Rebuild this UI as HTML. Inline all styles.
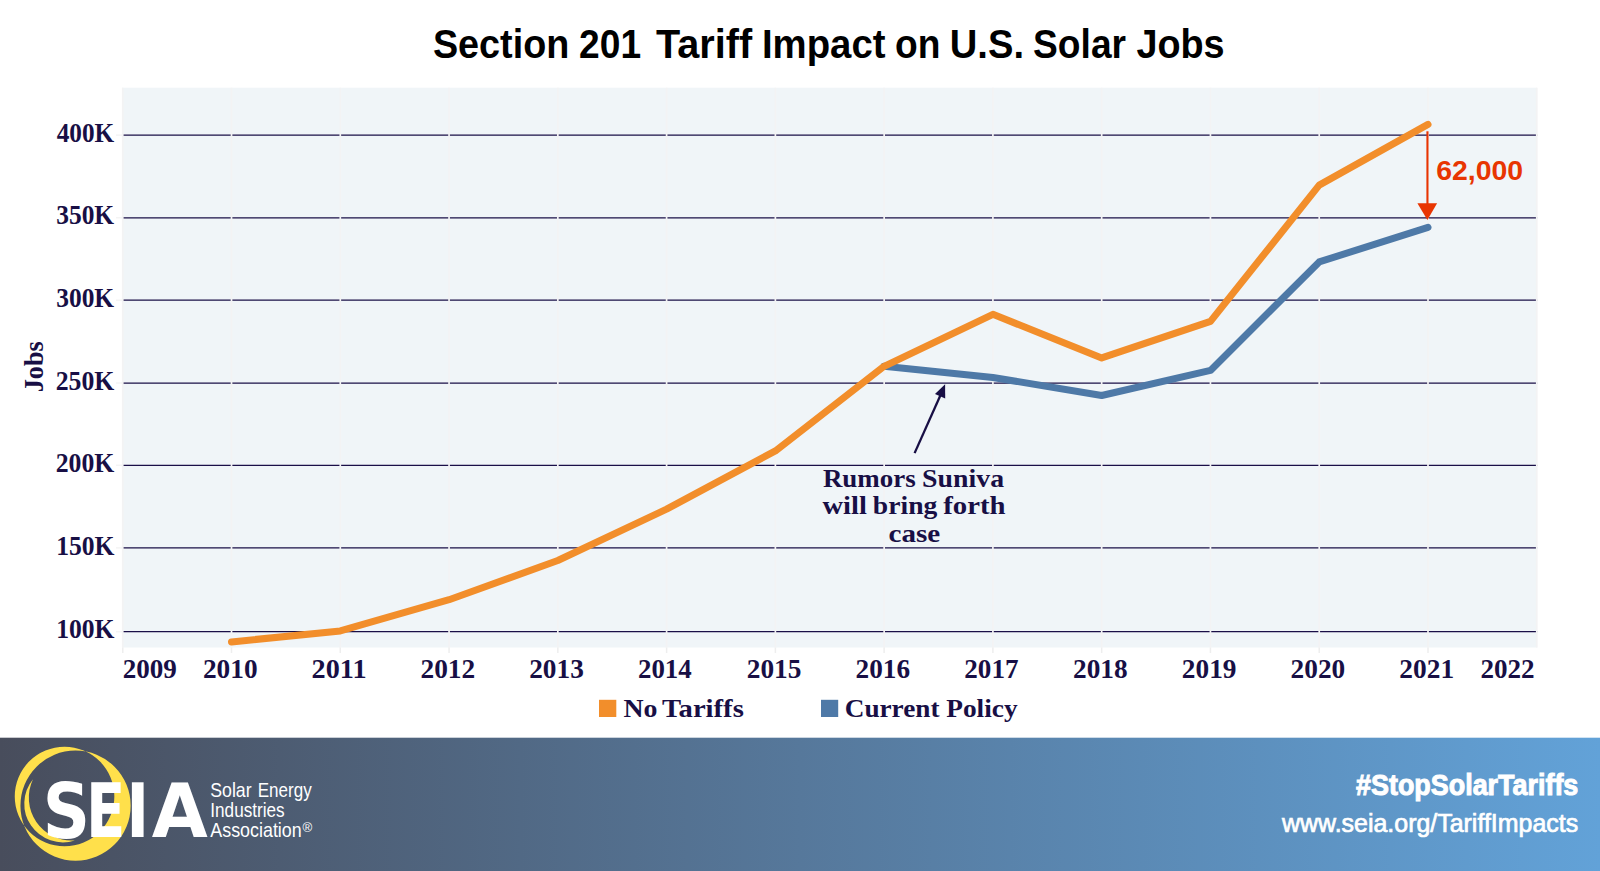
<!DOCTYPE html>
<html lang="en">
<head>
<meta charset="utf-8">
<title>Section 201 Tariff Impact on U.S. Solar Jobs</title>
<style>
html,body{margin:0;padding:0;background:#fff;}
body{width:1600px;height:871px;overflow:hidden;position:relative;}
svg{position:absolute;left:0;top:0;display:block;}
text{white-space:pre;}
</style>
</head>
<body>
<svg width="1600" height="871" viewBox="0 0 1600 871">
<defs>
<linearGradient id="fg" x1="0" y1="0" x2="1" y2="0">
<stop offset="0" stop-color="#484d5c"/>
<stop offset="0.5" stop-color="#56789b"/>
<stop offset="1" stop-color="#62a2d8"/>
</linearGradient>
</defs>
<text y="57.70" font-family="'Liberation Sans', sans-serif" font-weight="700" font-size="41.1" fill="#000"><tspan x="432.88" textLength="136.47" lengthAdjust="spacingAndGlyphs">Section</tspan> <tspan x="579.10" textLength="61.95" lengthAdjust="spacingAndGlyphs">201</tspan> <tspan x="656.04" textLength="96.18" lengthAdjust="spacingAndGlyphs">Tariff</tspan> <tspan x="761.93" textLength="123.55" lengthAdjust="spacingAndGlyphs">Impact</tspan> <tspan x="895.08" textLength="45.43" lengthAdjust="spacingAndGlyphs">on</tspan> <tspan x="949.82" textLength="74.17" lengthAdjust="spacingAndGlyphs">U.S.</tspan> <tspan x="1033.09" textLength="92.93" lengthAdjust="spacingAndGlyphs">Solar</tspan> <tspan x="1136.40" textLength="88.22" lengthAdjust="spacingAndGlyphs">Jobs</tspan></text>
<rect x="122.1" y="87.7" width="1415.1" height="559.8" fill="#f0f5f8"/>
<g stroke="#1a0f47" stroke-width="1.25">
<line x1="122.1" x2="1537.2" y1="135.15" y2="135.15"/>
<line x1="122.1" x2="1537.2" y1="217.75" y2="217.75"/>
<line x1="122.1" x2="1537.2" y1="300.20" y2="300.20"/>
<line x1="122.1" x2="1537.2" y1="383.00" y2="383.00"/>
<line x1="122.1" x2="1537.2" y1="465.30" y2="465.30"/>
<line x1="122.1" x2="1537.2" y1="547.90" y2="547.90"/>
<line x1="122.1" x2="1537.2" y1="631.70" y2="631.70"/>
</g>
<g stroke="#f4f4f4" stroke-width="1.5">
<line x1="116" x2="122" y1="135.15" y2="135.15"/>
<line x1="116" x2="122" y1="217.75" y2="217.75"/>
<line x1="116" x2="122" y1="300.20" y2="300.20"/>
<line x1="116" x2="122" y1="383.00" y2="383.00"/>
<line x1="116" x2="122" y1="465.30" y2="465.30"/>
<line x1="116" x2="122" y1="547.90" y2="547.90"/>
<line x1="116" x2="122" y1="631.70" y2="631.70"/>
</g>
<g stroke="#f3f3f4" stroke-width="1.7">
<line x1="122.75" x2="122.75" y1="87.7" y2="647.5"/>
<line x1="231.52" x2="231.52" y1="87.7" y2="647.5"/>
<line x1="340.29" x2="340.29" y1="87.7" y2="647.5"/>
<line x1="449.06" x2="449.06" y1="87.7" y2="647.5"/>
<line x1="557.83" x2="557.83" y1="87.7" y2="647.5"/>
<line x1="666.60" x2="666.60" y1="87.7" y2="647.5"/>
<line x1="775.37" x2="775.37" y1="87.7" y2="647.5"/>
<line x1="884.14" x2="884.14" y1="87.7" y2="647.5"/>
<line x1="992.91" x2="992.91" y1="87.7" y2="647.5"/>
<line x1="1101.68" x2="1101.68" y1="87.7" y2="647.5"/>
<line x1="1210.45" x2="1210.45" y1="87.7" y2="647.5"/>
<line x1="1319.22" x2="1319.22" y1="87.7" y2="647.5"/>
<line x1="1427.99" x2="1427.99" y1="87.7" y2="647.5"/>
<line x1="1536.76" x2="1536.76" y1="87.7" y2="647.5"/>
</g>
<g stroke="#eeeeee" stroke-width="1.5">
<line x1="122.75" x2="122.75" y1="647.5" y2="653"/>
<line x1="231.52" x2="231.52" y1="647.5" y2="653"/>
<line x1="340.29" x2="340.29" y1="647.5" y2="653"/>
<line x1="449.06" x2="449.06" y1="647.5" y2="653"/>
<line x1="557.83" x2="557.83" y1="647.5" y2="653"/>
<line x1="666.60" x2="666.60" y1="647.5" y2="653"/>
<line x1="775.37" x2="775.37" y1="647.5" y2="653"/>
<line x1="884.14" x2="884.14" y1="647.5" y2="653"/>
<line x1="992.91" x2="992.91" y1="647.5" y2="653"/>
<line x1="1101.68" x2="1101.68" y1="647.5" y2="653"/>
<line x1="1210.45" x2="1210.45" y1="647.5" y2="653"/>
<line x1="1319.22" x2="1319.22" y1="647.5" y2="653"/>
<line x1="1427.99" x2="1427.99" y1="647.5" y2="653"/>
</g>
<text y="141.85" font-family="'Liberation Serif', serif" font-weight="700" font-size="27" fill="#180f45"><tspan x="56.63" textLength="57.58" lengthAdjust="spacingAndGlyphs">400K</tspan></text>
<text y="224.45" font-family="'Liberation Serif', serif" font-weight="700" font-size="27" fill="#180f45"><tspan x="56.20" textLength="57.97" lengthAdjust="spacingAndGlyphs">350K</tspan></text>
<text y="306.90" font-family="'Liberation Serif', serif" font-weight="700" font-size="27" fill="#180f45"><tspan x="56.20" textLength="57.97" lengthAdjust="spacingAndGlyphs">300K</tspan></text>
<text y="389.70" font-family="'Liberation Serif', serif" font-weight="700" font-size="27" fill="#180f45"><tspan x="55.71" textLength="58.61" lengthAdjust="spacingAndGlyphs">250K</tspan></text>
<text y="472.00" font-family="'Liberation Serif', serif" font-weight="700" font-size="27" fill="#180f45"><tspan x="55.71" textLength="58.61" lengthAdjust="spacingAndGlyphs">200K</tspan></text>
<text y="554.60" font-family="'Liberation Serif', serif" font-weight="700" font-size="27" fill="#180f45"><tspan x="56.21" textLength="58.33" lengthAdjust="spacingAndGlyphs">150K</tspan></text>
<text y="638.40" font-family="'Liberation Serif', serif" font-weight="700" font-size="27" fill="#180f45"><tspan x="56.21" textLength="58.33" lengthAdjust="spacingAndGlyphs">100K</tspan></text>
<text transform="translate(43.25,391.3) rotate(-90)" y="0.00" font-family="'Liberation Serif', serif" font-weight="700" font-size="26.8" fill="#180f45"><tspan x="-1.00" textLength="51.05" lengthAdjust="spacingAndGlyphs">Jobs</tspan></text>
<text y="678.00" font-family="'Liberation Serif', serif" font-weight="700" font-size="27" fill="#180f45"><tspan x="122.74" textLength="54.18" lengthAdjust="spacingAndGlyphs">2009</tspan></text>
<text y="678.00" font-family="'Liberation Serif', serif" font-weight="700" font-size="27" fill="#180f45"><tspan x="202.90" textLength="54.65" lengthAdjust="spacingAndGlyphs">2010</tspan></text>
<text y="678.00" font-family="'Liberation Serif', serif" font-weight="700" font-size="27" fill="#180f45"><tspan x="311.62" textLength="54.90" lengthAdjust="spacingAndGlyphs">2011</tspan></text>
<text y="678.00" font-family="'Liberation Serif', serif" font-weight="700" font-size="27" fill="#180f45"><tspan x="420.44" textLength="54.76" lengthAdjust="spacingAndGlyphs">2012</tspan></text>
<text y="678.00" font-family="'Liberation Serif', serif" font-weight="700" font-size="27" fill="#180f45"><tspan x="529.21" textLength="54.58" lengthAdjust="spacingAndGlyphs">2013</tspan></text>
<text y="678.00" font-family="'Liberation Serif', serif" font-weight="700" font-size="27" fill="#180f45"><tspan x="638.00" textLength="53.74" lengthAdjust="spacingAndGlyphs">2014</tspan></text>
<text y="678.00" font-family="'Liberation Serif', serif" font-weight="700" font-size="27" fill="#180f45"><tspan x="746.75" textLength="54.67" lengthAdjust="spacingAndGlyphs">2015</tspan></text>
<text y="678.00" font-family="'Liberation Serif', serif" font-weight="700" font-size="27" fill="#180f45"><tspan x="855.52" textLength="54.53" lengthAdjust="spacingAndGlyphs">2016</tspan></text>
<text y="678.00" font-family="'Liberation Serif', serif" font-weight="700" font-size="27" fill="#180f45"><tspan x="964.30" textLength="54.23" lengthAdjust="spacingAndGlyphs">2017</tspan></text>
<text y="678.00" font-family="'Liberation Serif', serif" font-weight="700" font-size="27" fill="#180f45"><tspan x="1073.06" textLength="54.59" lengthAdjust="spacingAndGlyphs">2018</tspan></text>
<text y="678.00" font-family="'Liberation Serif', serif" font-weight="700" font-size="27" fill="#180f45"><tspan x="1181.83" textLength="54.61" lengthAdjust="spacingAndGlyphs">2019</tspan></text>
<text y="678.00" font-family="'Liberation Serif', serif" font-weight="700" font-size="27" fill="#180f45"><tspan x="1290.60" textLength="54.65" lengthAdjust="spacingAndGlyphs">2020</tspan></text>
<text y="678.00" font-family="'Liberation Serif', serif" font-weight="700" font-size="27" fill="#180f45"><tspan x="1399.37" textLength="54.78" lengthAdjust="spacingAndGlyphs">2021</tspan></text>
<text y="678.00" font-family="'Liberation Serif', serif" font-weight="700" font-size="27" fill="#180f45"><tspan x="1480.44" textLength="54.20" lengthAdjust="spacingAndGlyphs">2022</tspan></text>
<polyline points="884.1,366.3 992.9,377.5 1101.7,395.5 1210.5,370.4 1319.2,261.9 1428.0,227.4" fill="none" stroke="#4e79a7" stroke-width="7" stroke-linecap="round" stroke-linejoin="round"/>
<polyline points="231.5,641.9 340.3,630.9 449.1,599.7 557.8,560.5 666.6,509.2 775.4,450.9 884.1,366.3 992.9,314.3 1101.7,357.9 1210.5,321.4 1319.2,185.1 1428.0,124.4" fill="none" stroke="#f28e2b" stroke-width="7" stroke-linecap="round" stroke-linejoin="round"/>
<line x1="1427.45" x2="1427.45" y1="131.3" y2="205" stroke="#e83502" stroke-width="2.1"/>
<polygon points="1417.4,203.2 1437.1,203.2 1427.4,220.0" fill="#e83502"/>
<text y="180.30" font-family="'Liberation Sans', sans-serif" font-weight="700" font-size="27.6" fill="#e83502"><tspan x="1436.24" textLength="86.92" lengthAdjust="spacingAndGlyphs">62,000</tspan></text>
<line x1="914.6" y1="453.1" x2="941" y2="394" stroke="#180f45" stroke-width="2.3"/>
<polygon points="945.1,384.2 945.2,398.6 935.0,393.9" fill="#180f45"/>
<text y="486.50" font-family="'Liberation Serif', serif" font-weight="700" font-size="24.3" fill="#180f45"><tspan x="822.90" textLength="92.88" lengthAdjust="spacingAndGlyphs">Rumors</tspan> <tspan x="922.14" textLength="81.92" lengthAdjust="spacingAndGlyphs">Suniva</tspan></text>
<text y="513.80" font-family="'Liberation Serif', serif" font-weight="700" font-size="24.3" fill="#180f45"><tspan x="822.49" textLength="44.42" lengthAdjust="spacingAndGlyphs">will</tspan> <tspan x="872.88" textLength="64.44" lengthAdjust="spacingAndGlyphs">bring</tspan> <tspan x="943.21" textLength="62.37" lengthAdjust="spacingAndGlyphs">forth</tspan></text>
<text y="541.50" font-family="'Liberation Serif', serif" font-weight="700" font-size="24.3" fill="#180f45"><tspan x="888.57" textLength="51.74" lengthAdjust="spacingAndGlyphs">case</tspan></text>
<rect x="599" y="699.8" width="17.3" height="17.2" fill="#f28e2b"/>
<rect x="821" y="699.8" width="17.2" height="17.2" fill="#4e79a7"/>
<text y="717.00" font-family="'Liberation Serif', serif" font-weight="700" font-size="26.0" fill="#180f45"><tspan x="623.42" textLength="34.02" lengthAdjust="spacingAndGlyphs">No</tspan> <tspan x="662.09" textLength="81.75" lengthAdjust="spacingAndGlyphs">Tariffs</tspan></text>
<text y="717.00" font-family="'Liberation Serif', serif" font-weight="700" font-size="26.0" fill="#180f45"><tspan x="844.71" textLength="94.84" lengthAdjust="spacingAndGlyphs">Current</tspan> <tspan x="946.20" textLength="71.42" lengthAdjust="spacingAndGlyphs">Policy</tspan></text>
<rect x="0" y="737.7" width="1600" height="133.3" fill="url(#fg)"/>
<path fill="#ffe04b" fill-rule="evenodd" d="M14.75,796.50 A49.80,49.80 0 1,1 114.35,796.50 A49.80,49.80 0 1,1 14.75,796.50 Z M20.45,805.65 A55.10,55.10 0 1,1 130.65,805.65 A55.10,55.10 0 1,1 20.45,805.65 Z"/>
<path fill="#ffe04b" d="M33.00,779.35 A38.58,38.58 0 0,0 74.95,840.40 A42.75,42.75 0 0,1 33.00,779.35 Z"/>
<text y="837.20" font-family="'DejaVu Sans Condensed', 'DejaVu Sans', sans-serif" font-weight="700" font-size="74.4" fill="#fff"><tspan x="42.75" y="837.70" font-size="76.1" textLength="47.30" lengthAdjust="spacingAndGlyphs">S</tspan><tspan x="85.89" y="837.20" font-size="74.4" textLength="39.42" lengthAdjust="spacingAndGlyphs">E</tspan><tspan x="126.13" y="837.20" font-size="74.2" textLength="22.95" lengthAdjust="spacingAndGlyphs">I</tspan><tspan x="151.68" y="837.20" font-size="74.8" textLength="56.01" lengthAdjust="spacingAndGlyphs">A</tspan></text>
<text y="796.60" font-family="'Liberation Sans', sans-serif" font-weight="400" font-size="19.8" fill="#fff"><tspan x="210.22" textLength="41.39" lengthAdjust="spacingAndGlyphs">Solar</tspan> <tspan x="257.70" textLength="53.96" lengthAdjust="spacingAndGlyphs">Energy</tspan></text>
<text y="816.90" font-family="'Liberation Sans', sans-serif" font-weight="400" font-size="19.8" fill="#fff"><tspan x="210.30" textLength="74.40" lengthAdjust="spacingAndGlyphs">Industries</tspan></text>
<text y="837.20" font-family="'Liberation Sans', sans-serif" font-weight="400" font-size="19.8" fill="#fff"><tspan x="210.33" textLength="91.39" lengthAdjust="spacingAndGlyphs">Association</tspan><tspan x="302.40" y="832.20" font-size="12.5" textLength="9.74" lengthAdjust="spacingAndGlyphs">®</tspan></text>
<text y="794.90" font-family="'Liberation Sans', sans-serif" font-weight="700" font-size="28.8" fill="#fff" stroke="#fff" stroke-width="1.0"><tspan x="1356.01" textLength="222.34" lengthAdjust="spacingAndGlyphs">#StopSolarTariffs</tspan></text>
<text y="832.30" font-family="'Liberation Sans', sans-serif" font-weight="400" font-size="24.9" fill="#fff" stroke="#fff" stroke-width="0.7"><tspan x="1282.02" textLength="296.10" lengthAdjust="spacingAndGlyphs">www.seia.org/TariffImpacts</tspan></text>
</svg>
</body>
</html>
